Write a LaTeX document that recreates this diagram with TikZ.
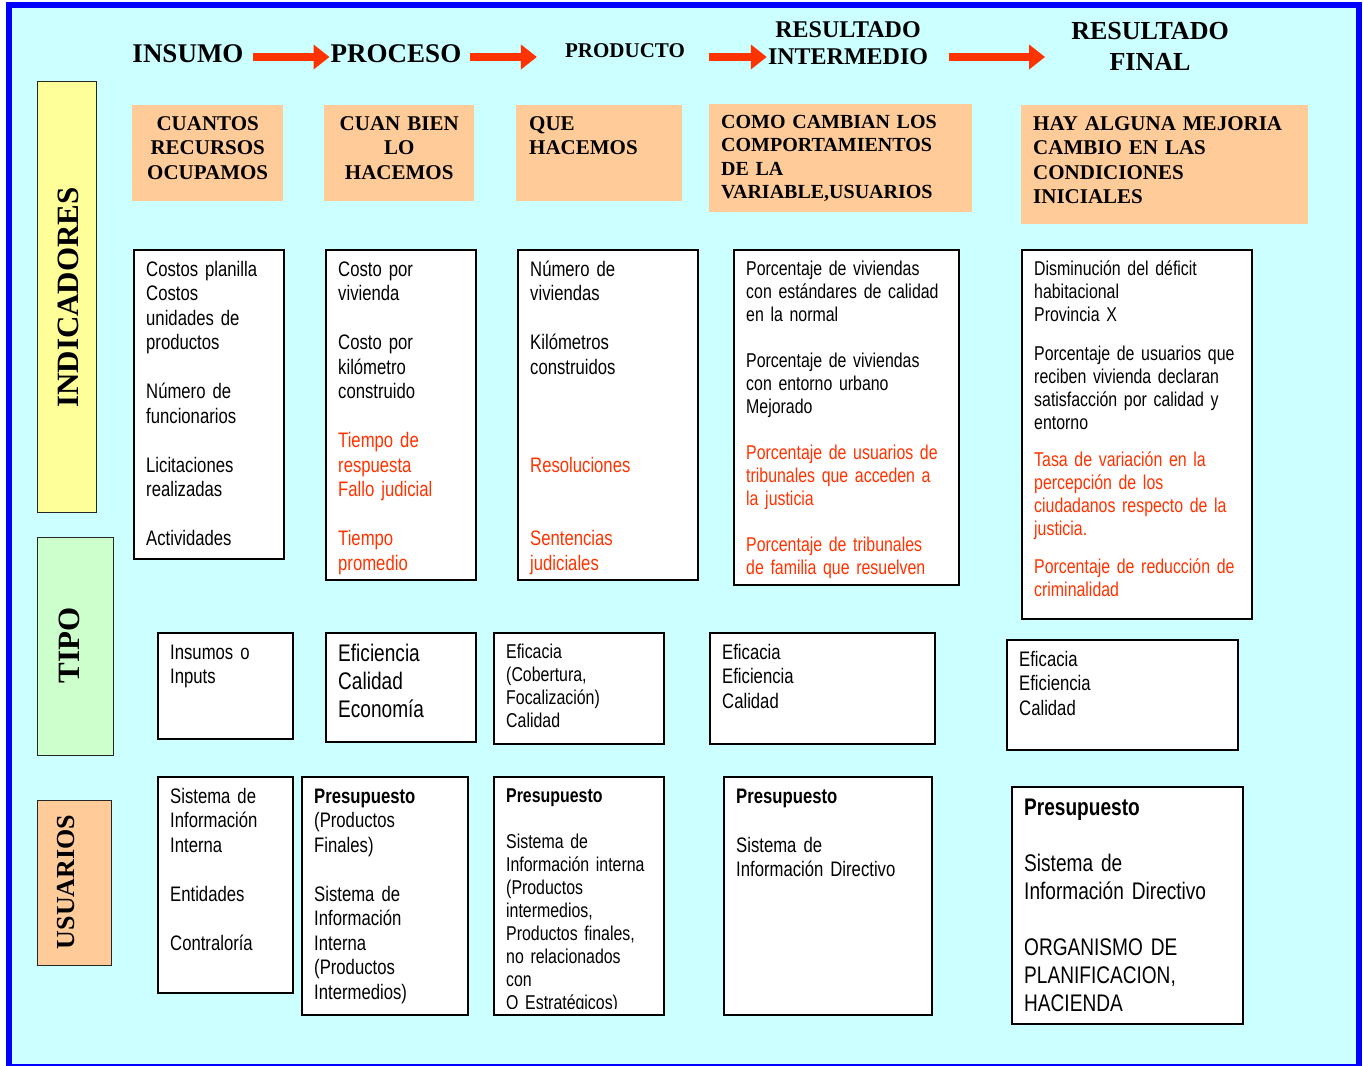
\documentclass[tikz,border=0pt]{standalone}
\usepackage{fontspec}
\setmainfont{Liberation Serif}
\newfontfamily\narrowsf{Liberation Sans}[FakeStretch=0.795]
\usetikzlibrary{positioning,arrows.meta}
\definecolor{cyanbg}{HTML}{CCFFFF}
\definecolor{frameblue}{HTML}{0000FF}
\definecolor{indyellow}{HTML}{FFFF99}
\definecolor{tipogreen}{HTML}{CCFFCC}
\definecolor{peach}{HTML}{FFCC99}
\definecolor{redtxt}{HTML}{FF3300}
\tikzset{
  cell/.style={draw=black, line width=1.8pt, fill=white, anchor=north west, inner sep=0pt},
  head/.style={fill=peach, anchor=north west, inner sep=0pt},
  sidebox/.style={draw=black!85, line width=1.2pt, anchor=north west, inner sep=0pt},
  sidetxt/.style={rotate=90, inner sep=0pt, font=\bfseries\fontsize{31}{34}\selectfont},
  title/.style={inner sep=0pt, align=center, font=\bfseries\fontsize{27}{30}\selectfont},
  headtxt/.style={inner sep=0pt, font=\bfseries\fontsize{21}{24.5}\selectfont, execute at begin node=\strut},
  celltxt/.style={inner sep=0pt, text width=280pt, align=left, font=\narrowsf\fontsize{21}{24.5}\selectfont, execute at begin node=\strut},
  s20/.style={font=\narrowsf\fontsize{20}{23}\selectfont},
  s24/.style={font=\narrowsf\fontsize{24}{28}\selectfont},
  redarrow/.style={draw=redtxt, line width=8pt, -{Triangle[length=16pt,width=24pt]}}
}
\begin{document}
\begin{tikzpicture}[x=1pt,y=-1pt]
\useasboundingbox (0,0) rectangle (1364,1065);
\draw[fill=cyanbg, draw=frameblue, line width=6pt] (9,5) rectangle (1359,1067);

\node[title] (insumo) at (188,54) {INSUMO};
\node[title] (proceso) at (396,54) {PROCESO};
\node[title, font=\bfseries\fontsize{21}{24}\selectfont] (producto) at (625,51) {PRODUCTO};
\node[title, font=\bfseries\fontsize{24}{27}\selectfont] (intermedio) at (848,43.5) {RESULTADO\\INTERMEDIO};
\node[title, font=\bfseries\fontsize{26}{31}\selectfont] (final) at (1150,46.5) {RESULTADO\\FINAL};
\coordinate (arrowrow) at (0,57);
\draw[redarrow, shorten <=9.5pt, shorten >=1pt] (insumo.east |- arrowrow) -- (proceso.west |- arrowrow);
\draw[redarrow, shorten <=9pt, shorten >=28pt] (proceso.east |- arrowrow) -- (producto.west |- arrowrow);
\draw[redarrow, shorten <=24pt, shorten >=1pt] (producto.east |- arrowrow) -- (intermedio.west |- arrowrow);
\draw[redarrow, shorten <=21pt, shorten >=26pt] (intermedio.east |- arrowrow) -- (final.west |- arrowrow);

\node[sidebox, fill=indyellow, minimum width=59, minimum height=431] (indbox) at (37,81) {};
\node[sidetxt] (indtxt) at (68,297.5) {INDICADORES};
\node[sidebox, fill=tipogreen, minimum width=76, minimum height=218] (tipobox) at (37,537) {};
\node[sidetxt] (tipotxt) at (69,645.5) {TIPO};
\node[sidebox, fill=peach, minimum width=74, minimum height=165] (usubox) at (37,800) {};
\node[sidetxt, font=\bfseries\fontsize{26}{30}\selectfont] (usutxt) at (66,882) {USUARIOS};

\node[head, minimum width=151, minimum height=96] (hd1) at (132,105) {};
\node[headtxt, text width=151pt, align=center, below=8pt of hd1.north] (hd1t) {CUANTOS\\RECURSOS\\OCUPAMOS};
\node[head, minimum width=150, minimum height=96] (hd2) at (324,105) {};
\node[headtxt, text width=150pt, align=center, below=8pt of hd2.north] (hd2t) {CUAN BIEN\\LO\\HACEMOS};
\node[head, minimum width=166, minimum height=96] (hd3) at (516,105) {};
\node[headtxt, text width=160pt, align=left, below right=8pt and 13pt of hd3.north west] (hd3t) {QUE\\HACEMOS};
\node[head, minimum width=263, minimum height=108] (hd4) at (709,104) {};
\node[headtxt, font=\bfseries\fontsize{20}{23.3}\selectfont, text width=250pt, align=left, below right=8pt and 12pt of hd4.north west] (hd4t) {COMO CAMBIAN LOS\\COMPORTAMIENTOS\\DE LA\\VARIABLE,USUARIOS};
\node[head, minimum width=287, minimum height=119] (hd5) at (1021,105) {};
\node[headtxt, text width=270pt, align=left, below right=8pt and 12pt of hd5.north west] (hd5t) {HAY ALGUNA MEJORIA\\CAMBIO EN LAS\\CONDICIONES\\INICIALES};

\node[cell, minimum width=150, minimum height=309] (ind1) at (133,249) {};
\node[celltxt, below right=10pt and 13pt of ind1.north west] (ind1t) {Costos planilla\\Costos\\unidades de\\productos\\[\baselineskip]Número de\\funcionarios\\[\baselineskip]Licitaciones\\realizadas\\[\baselineskip]Actividades};
\node[cell, minimum width=150, minimum height=330] (ind2) at (325,249) {};
\node[celltxt, below right=10pt and 13pt of ind2.north west] (ind2t) {Costo por\\vivienda\\[\baselineskip]Costo por\\kilómetro\\construido\\[\baselineskip]{\color{redtxt}Tiempo de\\respuesta\\Fallo judicial\\[\baselineskip]Tiempo\\promedio}};
\node[cell, minimum width=180, minimum height=330] (ind3) at (517,249) {};
\node[celltxt, below right=10pt and 13pt of ind3.north west] (ind3t) {Número de\\viviendas\\[\baselineskip]Kilómetros\\construidos\\[3\baselineskip]{\color{redtxt}Resoluciones\\[2\baselineskip]Sentencias\\judiciales}};
\node[cell, minimum width=225, minimum height=335] (ind4) at (733,249) {};
\node[celltxt, s20, below right=10pt and 13pt of ind4.north west] (ind4t) {Porcentaje de viviendas\\con estándares de calidad\\en la normal\\[\baselineskip]Porcentaje de viviendas\\con entorno urbano\\Mejorado\\[\baselineskip]{\color{redtxt}Porcentaje de usuarios de\\tribunales que acceden a\\la justicia\\[\baselineskip]Porcentaje de tribunales\\de familia que resuelven}};
\node[cell, minimum width=230, minimum height=369] (ind5) at (1021,249) {};
\node[celltxt, s20, below right=10pt and 13pt of ind5.north west] (ind5t) {Disminución del déficit\\habitacional\\Provincia X\\[16pt]Porcentaje de usuarios que\\reciben vivienda declaran\\satisfacción por calidad y\\entorno\\[14pt]{\color{redtxt}Tasa de variación en la\\percepción de los\\ciudadanos respecto de la\\justicia.\\[15pt]Porcentaje de reducción de\\criminalidad}};

\node[cell, minimum width=135, minimum height=106] (tip1) at (157,632) {};
\node[celltxt, below right=10pt and 13pt of tip1.north west] (tip1t) {Insumos o\\Inputs};
\node[cell, minimum width=150, minimum height=109] (tip2) at (325,632) {};
\node[celltxt, s24, below right=10pt and 13pt of tip2.north west] (tip2t) {Eficiencia\\Calidad\\Economía};
\node[cell, minimum width=170, minimum height=111] (tip3) at (493,632) {};
\node[celltxt, s20, below right=10pt and 13pt of tip3.north west] (tip3t) {Eficacia\\(Cobertura,\\Focalización)\\Calidad};
\node[cell, minimum width=225, minimum height=111] (tip4) at (709,632) {};
\node[celltxt, below right=10pt and 13pt of tip4.north west] (tip4t) {Eficacia\\Eficiencia\\Calidad};
\node[cell, minimum width=231, minimum height=110] (tip5) at (1006,639) {};
\node[celltxt, below right=10pt and 13pt of tip5.north west] (tip5t) {Eficacia\\Eficiencia\\Calidad};

\node[cell, minimum width=135, minimum height=216] (usu1) at (157,776) {};
\node[celltxt, below right=10pt and 13pt of usu1.north west] (usu1t) {Sistema de\\Información\\Interna\\[\baselineskip]Entidades\\[\baselineskip]Contraloría};
\node[cell, minimum width=166, minimum height=238] (usu2) at (301,776) {};
\node[celltxt, below right=10pt and 13pt of usu2.north west] (usu2t) {\textbf{Presupuesto}\\(Productos\\Finales)\\[\baselineskip]Sistema de\\Información\\Interna\\(Productos\\Intermedios)};
\node[cell, minimum width=170, minimum height=238] (usu3) at (493,776) {};
\begin{scope}
\clip (usu3.north west) rectangle ([yshift=7pt]usu3.south east);
\node[celltxt, s20, below right=10pt and 13pt of usu3.north west] (usu3t) {\textbf{Presupuesto}\\[\baselineskip]Sistema de\\Información interna\\(Productos\\intermedios,\\Productos finales,\\no relacionados\\con\\O Estratégicos)};
\end{scope}
\node[cell, minimum width=208, minimum height=238] (usu4) at (723,776) {};
\node[celltxt, below right=10pt and 13pt of usu4.north west] (usu4t) {\textbf{Presupuesto}\\[\baselineskip]Sistema de\\Información Directivo};
\node[cell, minimum width=231, minimum height=237] (usu5) at (1011,786) {};
\node[celltxt, s24, below right=10pt and 13pt of usu5.north west] (usu5t) {\textbf{Presupuesto}\\[\baselineskip]Sistema de\\Información Directivo\\[\baselineskip]ORGANISMO DE\\PLANIFICACION,\\HACIENDA};
\end{tikzpicture}
\end{document}
